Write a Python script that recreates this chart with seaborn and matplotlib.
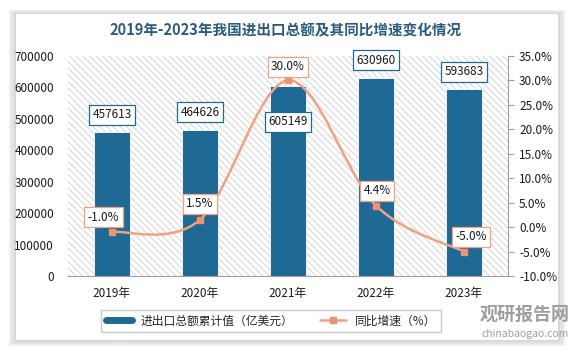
import numpy as np
import pandas as pd
import seaborn as sns
import matplotlib.pyplot as plt
from matplotlib.patches import Rectangle, PathPatch
from matplotlib.path import Path
from matplotlib.lines import Line2D

# data
years = ["2019年", "2020年", "2021年", "2022年", "2023年"]
total_trade = [457613, 464626, 605149, 630960, 593683]   # 亿美元
yoy_growth = [-1.0, 1.5, 30.0, 4.4, -5.0]                 # %

bar_color = "#1F6A94"
line_color = "#F0A181"
title_color = "#2B5C7E"

sns.set_theme(style="white")
plt.rcParams["font.family"] = ["Noto Sans CJK SC", "DejaVu Sans"]
plt.rcParams["hatch.linewidth"] = 0.6
plt.rcParams["hatch.color"] = "#D0D0D0"

fig = plt.figure(figsize=(5.72, 3.54), dpi=100)
fig.patch.set_facecolor("white")

# card with a soft shadow
for k, a in enumerate([0.05, 0.05, 0.06]):
    fig.patches.append(Rectangle((16 / 572 - 0.004 * (k + 1), 14 / 354 - 0.006 * (k + 1)),
                                 (558 - 16) / 572 + 0.008 * (k + 1), (340 - 14) / 354 + 0.010 * (k + 1),
                                 transform=fig.transFigure, facecolor="black", alpha=a,
                                 edgecolor="none", zorder=-3))
fig.patches.append(Rectangle((16 / 572, 14 / 354), (558 - 16) / 572, (340 - 14) / 354,
                             transform=fig.transFigure, facecolor="white",
                             edgecolor="none", zorder=-2))

ax = fig.add_axes([68 / 572, 1 - 276 / 354, (508 - 68) / 572, (276 - 56) / 354])
ax.patch.set_visible(False)
ax.add_patch(Rectangle((0, 0), 1, 1, transform=ax.transAxes, facecolor="white",
                       edgecolor="#D0D0D0", hatch="\\\\\\\\\\", lw=0, zorder=0))

df = pd.DataFrame({"year": years, "total": total_trade, "yoy": yoy_growth})
x = np.arange(len(years))

sns.barplot(data=df, x="year", y="total", color=bar_color, saturation=1,
            width=0.42, ax=ax, zorder=2, edgecolor="white", linewidth=0.6)
ax.set_ylim(0, 700000)
ax.set_xlim(-0.5, len(years) - 0.5)
ax.set_yticks(np.arange(0, 700001, 100000))
ax.set_xlabel("")
ax.set_ylabel("")
ax.tick_params(axis="y", labelsize=8.5, length=0, pad=10, colors="#1A1A1A")
ax.tick_params(axis="x", labelsize=8.5, length=0, pad=8, colors="#1A1A1A")
for s in ["top", "left", "right"]:
    ax.spines[s].set_visible(False)
ax.spines["bottom"].set_color("#A0A0A0")
ax.spines["bottom"].set_linewidth(0.8)

ax2 = ax.twinx()
ax2.patch.set_visible(False)
ax2.set_ylim(-10, 35)
ax2.set_yticks(np.arange(-10, 36, 5))
ax2.set_yticklabels([f"{v:.1f}%" for v in np.arange(-10, 36, 5)])
ax2.tick_params(axis="y", labelsize=8.5, direction="out", length=4, width=0.8,
                pad=4, colors="#1A1A1A")
ax2.tick_params(axis="y", color="#A0A0A0")
for s in ["top", "left", "bottom"]:
    ax2.spines[s].set_visible(False)
ax2.spines["right"].set_color("#A0A0A0")
ax2.spines["right"].set_linewidth(0.8)
ax2.grid(False)
ax.grid(False)

# smoothed growth line (bezier through the data points)
pts = np.column_stack([x, yoy_growth]).astype(float)
ext = np.vstack([pts[0], pts, pts[-1]])
verts = [tuple(pts[0])]
codes = [Path.MOVETO]
for i in range(len(pts) - 1):
    p0, p1, p2, p3 = ext[i], ext[i + 1], ext[i + 2], ext[i + 3]
    c1 = p1 + (p2 - p0) / 6
    c2 = p2 - (p3 - p1) / 6
    verts += [tuple(c1), tuple(c2), tuple(p2)]
    codes += [Path.CURVE4] * 3
ax2.add_patch(PathPatch(Path(verts, codes), facecolor="none", edgecolor=line_color,
                        lw=1.8, zorder=3))
ax2.plot(x, yoy_growth, ls="none", marker="s", ms=4.5, color="#EE9270", zorder=4)

# bar value labels
bar_offsets = [(0, 8), (0, 8), (0, -26), (0, 8), (0, 8)]
for i, v in enumerate(total_trade):
    dx, dy = bar_offsets[i]
    ax2.annotate(f"{v}", xy=(i, v), xycoords=ax.transData, xytext=(dx, dy),
                 textcoords="offset points", ha="center", va="bottom" if dy > 0 else "center",
                 fontsize=8.5, color="#1A1A1A", zorder=6,
                 bbox=dict(boxstyle="square,pad=0.3", fc="white", ec=bar_color, lw=0.9))

# growth labels
line_offsets = [(-6, 6), (0, 7), (0, 5), (1, 6), (5, 6)]
for i, v in enumerate(yoy_growth):
    dx, dy = line_offsets[i]
    ax2.annotate(f"{v:.1f}%", xy=(i, v), xytext=(dx, dy), textcoords="offset points",
                 ha="center", va="bottom", fontsize=8.5, color="#1A1A1A", zorder=7,
                 bbox=dict(boxstyle="square,pad=0.3", fc="white", ec=line_color, lw=0.9))

fig.text(0.5, 1 - 30 / 354, "2019年-2023年我国进出口总额及其同比增速变化情况",
         ha="center", va="center", fontsize=10.5, fontweight="bold", color=title_color)

handles = [Line2D([], [], color=bar_color, lw=5),
           Line2D([], [], color=line_color, lw=1.8, marker="s", ms=4.5, markerfacecolor="#EE9270",
                  markeredgecolor="#EE9270")]
fig.legend(handles, ["进出口总额累计值（亿美元）", "同比增速（%）"], loc="center",
           bbox_to_anchor=(271 / 572, 1 - 321 / 354), ncol=2, fontsize=8.5, frameon=True,
           fancybox=False, edgecolor="#BFBFBF", handlelength=2.2, columnspacing=2.2,
           borderpad=0.35)

# watermark
fig.text(525 / 572, 1 - 314 / 354, "观研报告网", ha="center", va="center", fontsize=13,
         fontweight="bold", color="#9E9E9E")
fig.text(525 / 572, 1 - 334 / 354, "chinabaogao.com", ha="center", va="center",
         fontsize=7.5, color="#9E9E9E")

fig.savefig("out.png", dpi=100)
